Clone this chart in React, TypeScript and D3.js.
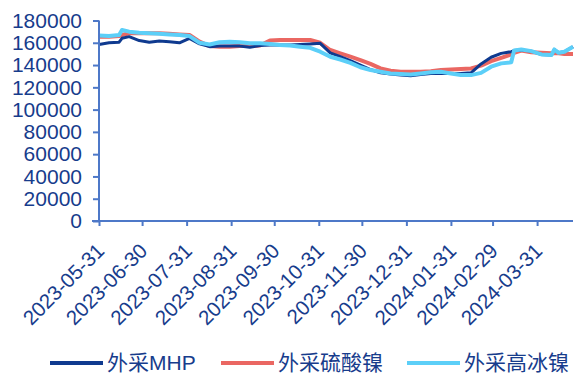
import React, { useEffect, useRef } from 'react'
import * as d3 from 'd3'

// Weekly readings (yuan/ton)
const dates = [
  '2023-05-31', '2023-06-07', '2023-06-14', '2023-06-16', '2023-06-21', '2023-06-28',
  '2023-07-05', '2023-07-12', '2023-07-19', '2023-07-26', '2023-08-02', '2023-08-09',
  '2023-08-16', '2023-08-23', '2023-08-30', '2023-09-06', '2023-09-13', '2023-09-20',
  '2023-09-27', '2023-10-04', '2023-10-11', '2023-10-18', '2023-10-25', '2023-11-01',
  '2023-11-08', '2023-11-15', '2023-11-22', '2023-11-29', '2023-12-06', '2023-12-13',
  '2023-12-20', '2023-12-27', '2024-01-03', '2024-01-10', '2024-01-17', '2024-01-24',
  '2024-01-31', '2024-02-07', '2024-02-14', '2024-02-21', '2024-02-28', '2024-03-06',
  '2024-03-13', '2024-03-15', '2024-03-20', '2024-03-27', '2024-04-03', '2024-04-10',
  '2024-04-12', '2024-04-15', '2024-04-19', '2024-04-25',
]

const mhp = [
  158500, 160000, 160500, 164000, 165500, 162000,
  160500, 161500, 161000, 160000, 164000, 159000,
  156500, 157000, 157000, 157000, 156000, 157500,
  158000, 158000, 158000, 158500, 159000, 159500,
  151000, 147500, 144000, 140000, 136000, 133000,
  132000, 131000, 130500, 131500, 132500, 132500,
  132500, 132500, 133000, 141000, 147000, 150500,
  152000, 153000, 153500, 152500, 149500, 149000,
  154000, 151000, 152000, 156500,
]

const nickelSulfate = [
  165500, 165500, 166000, 167000, 168500, 168500,
  168500, 168500, 168000, 167500, 167000, 161000,
  157000, 156500, 156500, 157000, 157000, 157500,
  162000, 162500, 162500, 162500, 162500, 160000,
  153500, 150500, 147500, 144500, 141000, 137000,
  135000, 134000, 134000, 134000, 134500, 135500,
  136000, 136500, 137000, 139500, 143500, 146500,
  149500, 151000, 153000, 151500, 151000, 150500,
  150500, 150500, 150000, 150000,
]

const highIceNickel = [
  166500, 166000, 167000, 171500, 170000, 169000,
  168500, 168000, 167500, 167000, 166000, 160000,
  158500, 160500, 161000, 160500, 159500, 159500,
  159000, 158000, 157500, 156500, 155500, 152000,
  147500, 145000, 142000, 138000, 135500, 134000,
  132500, 132000, 131500, 132500, 133500, 134000,
  132500, 131000, 131000, 133000, 138500, 141500,
  142500, 153000, 154000, 152500, 149500, 149000,
  154000, 151000, 152000, 156500,
]

const xTicks = [
  '2023-05-31', '2023-06-30', '2023-07-31', '2023-08-31', '2023-09-30', '2023-10-31',
  '2023-11-30', '2023-12-31', '2024-01-31', '2024-02-29', '2024-03-31',
]
const yTicks = [0, 20000, 40000, 60000, 80000, 100000, 120000, 140000, 160000, 180000]

const seriesNames = ['外采MHP', '外采硫酸镍', '外采高冰镍']

const parse = d3.timeParse('%Y-%m-%d')

export default function App() {
  const svgRef = useRef<SVGSVGElement>(null)

  useEffect(() => {
    if (!svgRef.current) return
    const svg = d3.select(svgRef.current)
    svg.selectAll('*').remove()

    const font = '"Liberation Sans", Arial, "Noto Sans CJK SC", sans-serif'
    const textColor = '#173c8c'
    const axisColor = '#4d78c8'

    const x = d3.scaleTime()
      .domain([parse('2023-05-31') as Date, parse('2024-04-25') as Date])
      .range([99, 573])
    const y = d3.scaleLinear().domain([0, 180000]).range([221, 20.5])

    const series = [
      { name: seriesNames[1], values: nickelSulfate, color: '#ea6762', width: 4 },
      { name: seriesNames[0], values: mhp, color: '#0f3a8f', width: 3 },
      { name: seriesNames[2], values: highIceNickel, color: '#5ccff8', width: 4 },
    ]

    const line = d3.line<number>()
      .x((_, i) => x(parse(dates[i]) as Date))
      .y(d => y(d))

    series.forEach(s => {
      svg.append('path')
        .datum(s.values)
        .attr('fill', 'none')
        .attr('stroke', s.color)
        .attr('stroke-width', s.width)
        .attr('stroke-linejoin', 'round')
        .attr('d', line)
    })

    // Y axis
    const yAxis = svg.append('g')
      .attr('transform', 'translate(99,0)')
      .call(d3.axisLeft(y).tickValues(yTicks).tickSize(6).tickPadding(11).tickFormat(d => String(d)))
    yAxis.select('.domain').attr('stroke', axisColor).attr('stroke-width', 2)
      .attr('d', `M0,${y(180000)}V${y(0)}`)
    yAxis.selectAll('.tick line').attr('stroke', axisColor).attr('stroke-width', 2)
    yAxis.selectAll('.tick text')
      .attr('fill', textColor)
      .style('font-family', font)
      .style('font-size', '21px')

    // X axis
    const xAxis = svg.append('g')
      .attr('transform', `translate(0,${y(0)})`)
      .call(d3.axisBottom(x).tickValues(xTicks.map(t => parse(t) as Date)).tickSize(5).tickFormat(d3.timeFormat('%Y-%m-%d') as any))
    xAxis.select('.domain').attr('stroke', axisColor).attr('stroke-width', 2)
      .attr('d', `M92,0H573`)
    xAxis.selectAll('.tick line').attr('stroke', axisColor).attr('stroke-width', 2)
    xAxis.selectAll('.tick text')
      .attr('fill', textColor)
      .style('font-family', font)
      .style('font-size', '20.5px')
      .attr('text-anchor', 'end')
      .attr('dy', '0.35em')
      .attr('transform', 'translate(1,26) rotate(-45)')
      .attr('y', 0)

    // Legend
    const legendItems = [
      { name: seriesNames[0], color: '#0f3a8f', x: 50 },
      { name: seriesNames[1], color: '#ea6762', x: 221 },
      { name: seriesNames[2], color: '#5ccff8', x: 407 },
    ]
    const legend = svg.append('g').attr('transform', 'translate(0,363)')
    legendItems.forEach(item => {
      legend.append('line')
        .attr('x1', item.x).attr('x2', item.x + 53)
        .attr('y1', 0).attr('y2', 0)
        .attr('stroke', item.color)
        .attr('stroke-width', 4)
      legend.append('text')
        .attr('x', item.x + 57)
        .attr('y', 0)
        .attr('dy', '0.35em')
        .attr('fill', textColor)
        .style('font-family', font)
        .style('font-size', '21px')
        .text(item.name)
    })
  }, [])

  return (
    <svg
      ref={svgRef}
      width={577}
      height={374}
      style={{ position: 'absolute', left: 0, top: 0, background: '#fff' }}
    />
  )
}
